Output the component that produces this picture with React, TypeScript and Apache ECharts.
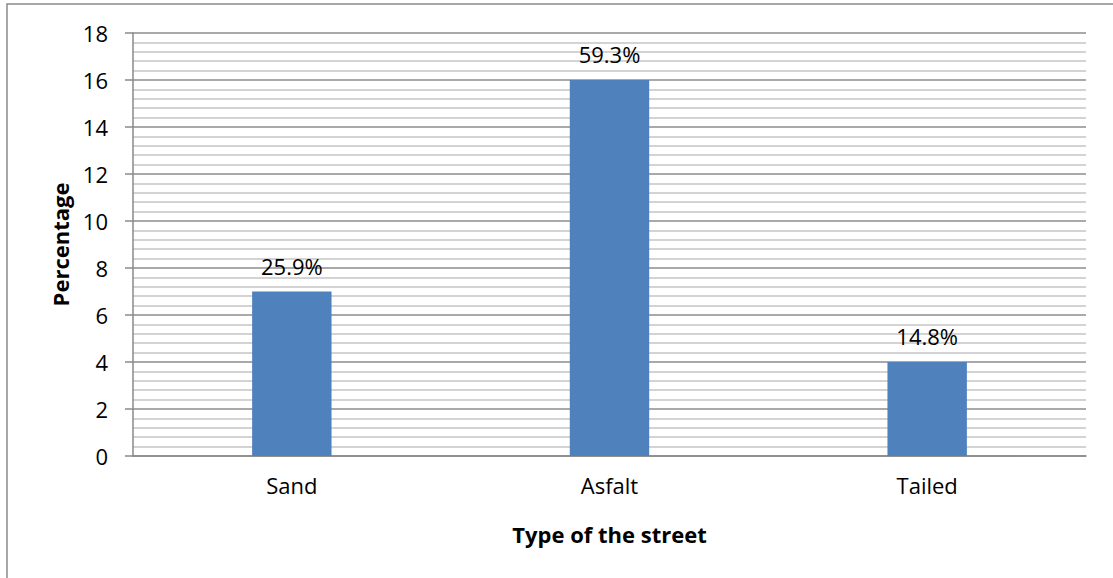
import React, { useEffect, useRef } from "react";
import * as echarts from "echarts";

const categories = ["Sand", "Asfalt", "Tailed"];
const values = [7, 16, 4];
const shareLabels = ["25.9%", "59.3%", "14.8%"];
const yTicks = { min: 0, max: 18, interval: 2 };

const FONT = "'Open Sans', 'Noto Sans', sans-serif";

export default function App() {
  const ref = useRef<HTMLDivElement>(null);

  useEffect(() => {
    document.body.style.margin = "0";
    const chart = echarts.init(ref.current!, null, { renderer: "svg" });
    chart.setOption({
      animation: false,
      backgroundColor: "#ffffff",
      grid: { left: 133, top: 33, width: 953, height: 423, containLabel: false },
      graphic: [
        {
          type: "rect",
          shape: { x: 7, y: 4, width: 1300, height: 800 },
          style: { fill: "none", stroke: "#8a8a8a", lineWidth: 1.5 },
          silent: true,
          z: -10,
        },
      ],
      xAxis: {
        type: "category",
        data: categories,
        name: "Type of the street",
        nameLocation: "middle",
        nameGap: 67,
        nameTextStyle: { fontFamily: FONT, fontSize: 22, fontWeight: "bold", color: "#000" },
        axisLine: { lineStyle: { color: "#8a8a8a", width: 1.5 } },
        axisTick: { show: false },
        axisLabel: { margin: 18, fontFamily: FONT, fontSize: 22, color: "#000" },
      },
      yAxis: {
        type: "value",
        min: yTicks.min,
        max: yTicks.max,
        interval: yTicks.interval,
        name: "Percentage",
        nameLocation: "middle",
        nameGap: 62,
        nameTextStyle: { fontFamily: FONT, fontSize: 22, fontWeight: "bold", color: "#000" },
        axisLine: { show: true, lineStyle: { color: "#8a8a8a", width: 1.5 } },
        axisTick: { show: true, length: 8, lineStyle: { color: "#8a8a8a", width: 1.5 } },
        axisLabel: { margin: 25, fontFamily: FONT, fontSize: 22, color: "#000" },
        splitLine: { show: true, lineStyle: { color: "#8c8c8c", width: 1.5 } },
        minorTick: { show: false, splitNumber: 5 },
        minorSplitLine: { show: true, lineStyle: { color: "#c4c4c4", width: 1.5 } },
      },
      series: [
        {
          type: "bar",
          data: values,
          barWidth: "25%",
          itemStyle: { color: "#4f81bd" },
          label: {
            show: true,
            position: "top",
            distance: 15,
            fontFamily: FONT,
            fontSize: 22,
            color: "#000",
            formatter: (p: any) => shareLabels[p.dataIndex],
          },
        },
      ],
    });
    return () => chart.dispose();
  }, []);

  return (
    <div
      ref={ref}
      style={{ position: "absolute", left: 0, top: 0, width: 1113, height: 578 }}
    />
  );
}
